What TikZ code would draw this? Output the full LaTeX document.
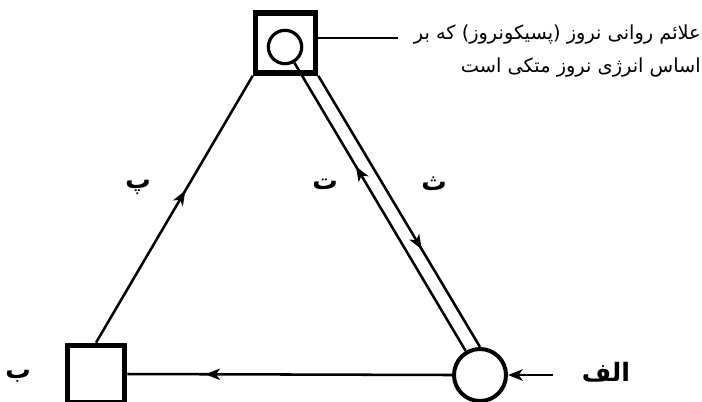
\documentclass[tikz,border=0pt]{standalone}
\usepackage{fontspec}
\newfontfamily\arabicfont[Script=Arabic]{DejaVu Sans}
\TeXXeTstate=1
\usetikzlibrary{arrows.meta,decorations.markings}

\begin{document}
\begin{tikzpicture}[x=0.75pt,y=-0.75pt,
		box/.style={draw,line width=4.2pt,minimum size=45pt,inner sep=0pt},
		ring/.style={draw,circle,line width=3pt,minimum size=39pt,inner sep=0pt},
		path line/.style={line width=1.9pt},
		mid arrow/.style={postaction={decorate},decoration={markings,
				mark=at position #1 with {\arrow{Stealth[length=11pt,width=8.5pt,inset=3pt]}}}},
		letter/.style={font=\arabicfont\bfseries\fontsize{19}{21}\selectfont}]
		\useasboundingbox (0, 0) rectangle (702, 401);
		\clip (0, 0) rectangle (702, 401);
		
		\node[box] (psy) at (285.5, 43) {};
		\node[draw,circle,line width=2.4pt,minimum size=25pt,inner sep=0pt] (inner) at (285, 47) {};
		\node[box,line width=4pt,minimum size=43pt] (b) at (96, 374) {};
		\node[ring] (a) at (480, 375) {};
		
		\node[letter] (lb) at (18, 376) {\beginR ب\endR};
		\node[letter] (la) at (606, 372) {\beginR الف\endR};
		\node[letter] (lp) at (138, 187) {\beginR پ\endR};
		\node[letter] (lt) at (325, 184) {\beginR ت\endR};
		\node[letter] (lth) at (434, 184) {\beginR ث\endR};
		
		\node[anchor=east,align=right,inner sep=0pt,
			font=\arabicfont\fontsize{14.5}{25}\selectfont] (note) at (701, 51)
			{\beginR علائم روانی نروز (پسیکونروز) که بر\endR\\
			 \beginR اساس انرژی نروز متکی است\endR};
		
		\coordinate (noteend) at (398, 38);
		\coordinate (astart) at (553, 375);
		
		\draw[path line,mid arrow=0.57] (b.north) -- (psy.south west);
		\draw[path line,mid arrow=0.76] (a.west) -- (b.east);
		\draw[path line,mid arrow=0.64] (a) -- (inner);
		\draw[path line,mid arrow=0.64] (psy.south east) -- (a.north);
		\draw[path line] (psy.east |- noteend) -- (noteend);
		\draw[path line,-{Stealth[length=11pt,width=8.5pt,inset=3pt]}] (astart) -- (a.east);
	\end{tikzpicture}
\end{document}
